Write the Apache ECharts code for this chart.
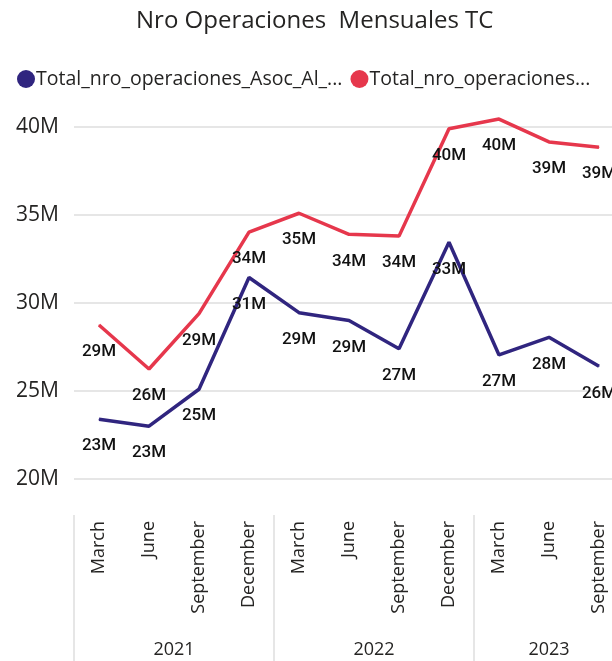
<!DOCTYPE html>
<html>
<head>
<meta charset="utf-8">
<script src="https://cdn.jsdelivr.net/npm/echarts@6/dist/echarts.min.js"></script>
<style>html,body{margin:0;padding:0;background:#fff;}#c{width:612px;height:661px;}</style>
</head>
<body>
<div id="c"></div>
<script>
var months = ['March','June','September','December','March','June','September','December','March','June','September'];
var yearNames = ['2021','2022','2023'];
var monthsPerYear = [4,4,3];
var seriesNames = ['Total_nro_operaciones_Asoc_Al_...','Total_nro_operaciones...'];
var blueValues = [23.4e6,23.0e6,25.1e6,31.45e6,29.45e6,29.0e6,27.4e6,33.45e6,27.05e6,28.05e6,26.4e6];
var redValues = [28.75e6,26.25e6,29.4e6,34.03e6,35.1e6,33.9e6,33.8e6,39.9e6,40.45e6,39.15e6,38.85e6];
var yTicks = [20e6,25e6,30e6,35e6,40e6];

var yearStarts = [], yearCenters = [], acc = 0;
for (var i = 0; i < monthsPerYear.length; i++) { yearStarts.push(acc); yearCenters.push(acc + monthsPerYear[i]/2); acc += monthsPerYear[i]; }

var txt = '#252423';
var font = '"Open Sans", "Noto Sans", sans-serif';
var blue = '#30257f', red = '#e6374c';
var chart = echarts.init(document.getElementById('c'));
function lbl(v){ return Math.round(v/1e6) + 'M'; }
function mkLabel(){ return { show: true, position: 'bottom', distance: 18, fontSize: 17, fontWeight: 500, color: '#111',
  fontFamily: 'Roboto, sans-serif', formatter: function(p){ return lbl(p.value); } }; }
chart.setOption({
  animation: false,
  title: { text: 'Nro Operaciones  Mensuales TC', left: 131, top: 4,
    textStyle: { fontSize: 24, fontWeight: 'normal', color: txt, fontFamily: font } },
  legend: { left: 12, top: 64, icon: 'circle', itemWidth: 18, itemHeight: 18, itemGap: 8,
    textStyle: { fontSize: 19.5, color: txt, fontFamily: font, padding: [0,0,0,-4] },
    data: [ { name: seriesNames[0], itemStyle: { color: blue, opacity: 1 } },
            { name: seriesNames[1], itemStyle: { color: red, opacity: 1 } } ] },
  grid: { left: 74, top: 127, width: 550, bottom: 182, containLabel: false, outerBoundsMode: 'none' },
  xAxis: [
    { type: 'category', data: months, boundaryGap: true,
      axisLine: { show: false }, axisTick: { show: false },
      axisLabel: { rotate: 90, margin: 42, fontSize: 18, color: txt, fontFamily: font, interval: 0 } },
    { type: 'value', min: 0, max: months.length, position: 'bottom', offset: 36,
      axisLine: { show: false }, splitLine: { show: false },
      axisTick: { show: true, customValues: yearStarts, length: 150, lineStyle: { color: '#e6e6e6', width: 2 } },
      axisLabel: { customValues: yearCenters, margin: 126, fontSize: 18, color: txt, fontFamily: font,
        formatter: function(v){ var k = yearCenters.indexOf(v); return k >= 0 ? yearNames[k] : ''; } } }
  ],
  yAxis: { type: 'value', min: 20e6, max: 40e6, interval: 5e6,
    axisLine: { show: false }, axisTick: { show: false },
    splitLine: { lineStyle: { color: '#e6e6e6', width: 2 } },
    axisLabel: { margin: 15, fontSize: 21, color: txt, fontFamily: font,
      formatter: function(v){ return yTicks.indexOf(v) >= 0 ? (v/1e6) + 'M' : ''; } } },
  series: [
    { name: seriesNames[0], type: 'line', data: blueValues, color: blue, clip: false,
      symbol: 'circle', symbolSize: 1, showSymbol: true,
      lineStyle: { width: 3.5, color: blue }, label: mkLabel() },
    { name: seriesNames[1], type: 'line', data: redValues, color: red, clip: false,
      symbol: 'circle', symbolSize: 1, showSymbol: true,
      lineStyle: { width: 3.5, color: red }, label: mkLabel() }
  ]
});
</script>
</body>
</html>
